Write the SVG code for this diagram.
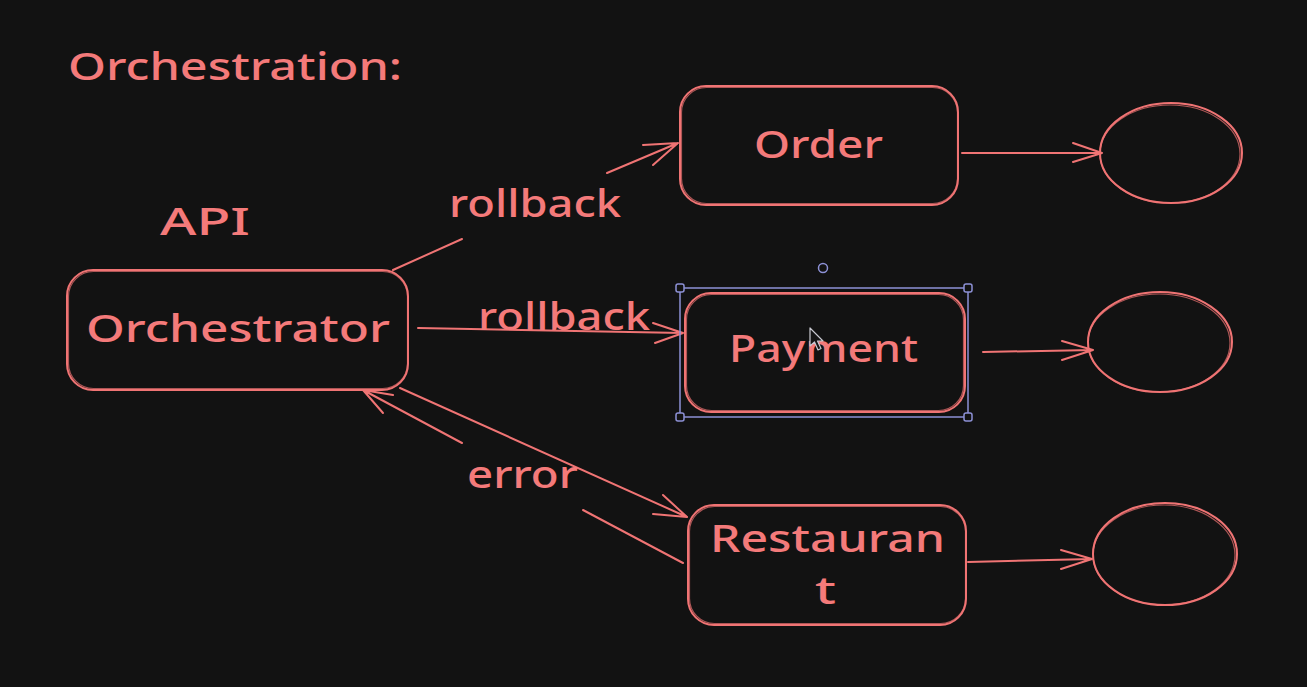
<svg xmlns="http://www.w3.org/2000/svg" width="1307" height="687" viewBox="0 0 1307 687">
<style>
.bg{fill:#121212}
.shape{fill:none;stroke:#f07474;stroke-width:2;stroke-linecap:round;stroke-linejoin:round}
.shape2{fill:none;stroke:#f07474;stroke-width:1.2;stroke-linecap:round;opacity:.7}
.edge{fill:none;stroke:#f07474;stroke-width:2;stroke-linecap:round;stroke-linejoin:round}
.t{fill:#f47a7a;font-family:"Noto Sans","DejaVu Sans",sans-serif;font-weight:500}
.sel{fill:none;stroke:#8d91d6;stroke-width:1.5}
.handle{fill:#121212;stroke:#8d91d6;stroke-width:1.5}
</style>
<rect class="bg" x="0" y="0" width="1307" height="687"/>

<text class="t" x="68" y="80" font-size="38" textLength="334" lengthAdjust="spacingAndGlyphs">Orchestration:</text>
<text class="t" x="160" y="235" font-size="38" textLength="90" lengthAdjust="spacingAndGlyphs">API</text>

<g id="connectors">
  <!-- Orchestrator -> Order (rollback) -->
  <path class="edge" d="M393 270 L462 239"/>
  <path class="edge" d="M607 173 L678 143 M643 145 L678 143 L653 165"/>
  <!-- Orchestrator -> Payment (rollback) -->
  <path class="edge" d="M418 328 L683 333 M653 323 L683 333 L655 343"/>
  <!-- Orchestrator -> Restaurant -->
  <path class="edge" d="M400 388 L687 517 M663 495 L687 517 L653 514"/>
  <!-- Restaurant -> Orchestrator (error) -->
  <path class="edge" d="M683 563 L583 510"/>
  <path class="edge" d="M462 443 L363 390 M393 395 L363 390 L383 413"/>
  <!-- boxes -> ellipses -->
  <path class="edge" d="M962 153 L1102 153 M1073 143 L1102 153 L1073 162"/>
  <path class="edge" d="M983 352 L1093 350 M1062 341 L1093 350 L1062 360"/>
  <path class="edge" d="M968 562 L1092 559 M1061 550 L1092 559 L1061 569"/>
  <text class="t" x="449" y="217" font-size="38" textLength="172" lengthAdjust="spacingAndGlyphs">rollback</text>
  <text class="t" x="478" y="330" font-size="38" textLength="172" lengthAdjust="spacingAndGlyphs">rollback</text>
  <text class="t" x="467" y="488" font-size="38" textLength="111" lengthAdjust="spacingAndGlyphs">error</text>
</g>

<g id="orchestrator">
  <rect class="shape" x="67" y="270" width="341" height="120" rx="26"/>
  <rect class="shape2" x="68.5" y="271.5" width="339" height="117" rx="25"/>
  <text class="t" x="86" y="342" font-size="38" textLength="304" lengthAdjust="spacingAndGlyphs">Orchestrator</text>
</g>

<g id="order">
  <rect class="shape" x="680" y="86" width="278" height="119" rx="26"/>
  <rect class="shape2" x="681.5" y="87.5" width="276" height="116" rx="25"/>
  <text class="t" x="754" y="158" font-size="38" textLength="129" lengthAdjust="spacingAndGlyphs">Order</text>
</g>

<g id="payment">
  <rect class="shape" x="685" y="293" width="280" height="119" rx="26"/>
  <rect class="shape2" x="686.5" y="294.5" width="277" height="116" rx="25"/>
  <text class="t" x="729" y="362" font-size="38" textLength="189" lengthAdjust="spacingAndGlyphs">Payment</text>
</g>

<g id="selection">
  <rect class="sel" x="680" y="288" width="288" height="129"/>
  <rect class="handle" x="676" y="284" width="8" height="8" rx="2"/>
  <rect class="handle" x="964" y="284" width="8" height="8" rx="2"/>
  <rect class="handle" x="676" y="413" width="8" height="8" rx="2"/>
  <rect class="handle" x="964" y="413" width="8" height="8" rx="2"/>
  <circle class="handle" cx="823" cy="268" r="4.5"/>
  <path d="M810 328 L810 346 L814.5 342 L818 350 L821 348.5 L817.5 341 L823 341 Z" fill="#151515" stroke="#c8c8d0" stroke-width="1.2" stroke-linejoin="round"/>
</g>

<g id="restaurant">
  <rect class="shape" x="688" y="505" width="278" height="120" rx="26"/>
  <rect class="shape2" x="689.5" y="506.5" width="276" height="117" rx="25"/>
  <text class="t" x="710" y="552" font-size="38" textLength="235" lengthAdjust="spacingAndGlyphs">Restauran</text>
  <text class="t" x="815" y="604" font-size="38" textLength="21" lengthAdjust="spacingAndGlyphs">t</text>
</g>

<g id="ellipse-order">
  <ellipse class="shape" cx="1171" cy="153" rx="71" ry="50"/>
  <ellipse class="shape2" cx="1170" cy="154" rx="70" ry="49"/>
</g>
<g id="ellipse-payment">
  <ellipse class="shape" cx="1160" cy="342" rx="72" ry="50"/>
  <ellipse class="shape2" cx="1159" cy="343" rx="71" ry="49"/>
</g>
<g id="ellipse-restaurant">
  <ellipse class="shape" cx="1165" cy="554" rx="72" ry="51"/>
  <ellipse class="shape2" cx="1164" cy="555" rx="71" ry="50"/>
</g>
</svg>
